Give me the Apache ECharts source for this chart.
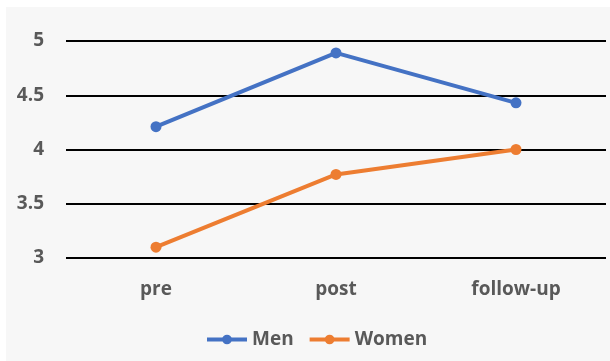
<!DOCTYPE html>
<html>
<head>
<meta charset="utf-8">
<script src="https://cdn.jsdelivr.net/npm/echarts@6/dist/echarts.min.js"></script>
<style>
  html, body { margin: 0; padding: 0; background: #ffffff; }
  #chart { width: 610px; height: 361px; }
</style>
</head>
<body>
<div id="chart"></div>
<script>
// Mean scores by measurement time
const categories = ['pre', 'post', 'follow-up'];
const menValues = [4.21, 4.89, 4.43];
const womenValues = [3.10, 3.77, 4.00];
const yTicks = { min: 3, max: 5, step: 0.5 };

const chart = echarts.init(document.getElementById('chart'), null, { renderer: 'canvas' });
const labelFont = { fontFamily: '"Open Sans", sans-serif', fontWeight: 'bold', color: '#595959' };

chart.setOption({
  animation: false,
  graphic: [{
    type: 'rect',
    shape: { x: 6, y: 7, width: 610, height: 361 },
    style: { fill: '#f7f7f7' },
    z: -10
  }],
  grid: { left: 66, right: 4, top: 41, bottom: 103 },
  legend: {
    bottom: 7,
    left: 200,
    itemWidth: 40,
    itemHeight: 12,
    itemGap: 14,
    lineStyle: { width: 4 },
    textStyle: Object.assign({ fontSize: 19 }, labelFont),
    data: ['Men', 'Women']
  },
  xAxis: {
    type: 'category',
    data: categories,
    axisLine: { show: false },
    axisTick: { show: false },
    axisLabel: Object.assign({ fontSize: 19, margin: 22 }, labelFont)
  },
  yAxis: {
    type: 'value',
    min: yTicks.min,
    max: yTicks.max,
    interval: yTicks.step,
    axisLine: { show: false },
    axisTick: { show: false },
    axisLabel: Object.assign({ fontSize: 19, margin: 22 }, labelFont),
    splitLine: { lineStyle: { color: '#000000', width: 2 } }
  },
  series: [
    {
      name: 'Men', type: 'line', data: menValues,
      symbol: 'circle', symbolSize: 11,
      itemStyle: { color: '#4472C4' },
      lineStyle: { color: '#4472C4', width: 4 }
    },
    {
      name: 'Women', type: 'line', data: womenValues,
      symbol: 'circle', symbolSize: 11,
      itemStyle: { color: '#ED7D31' },
      lineStyle: { color: '#ED7D31', width: 4 }
    }
  ]
});
</script>
</body>
</html>
